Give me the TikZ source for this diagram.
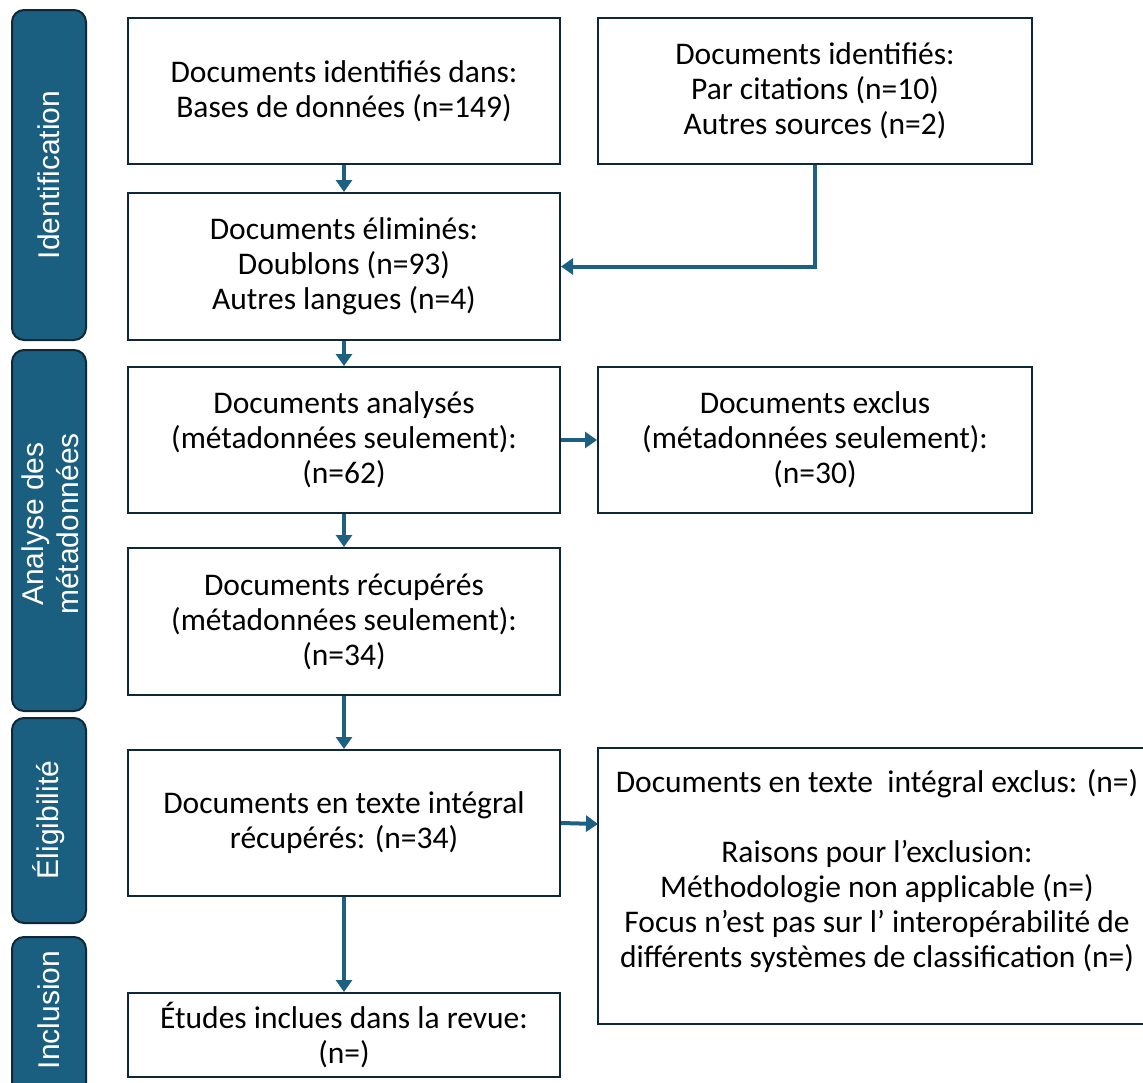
\documentclass[tikz,border=0pt]{standalone}
\usepackage{fontspec}
\setmainfont{Carlito}
\newfontfamily\sidefont{Liberation Sans}
\usetikzlibrary{arrows.meta}
\definecolor{teal1}{RGB}{26,94,128}
\definecolor{navy1}{RGB}{14,40,56}
\definecolor{arr}{RGB}{30,96,130}
\begin{document}
\begin{tikzpicture}[x=1pt,y=-1pt,
  box/.style={draw=navy1,line width=2pt,fill=white,align=center,font=\fontsize{31.5}{35}\selectfont,inner sep=0pt},
  side/.style={draw=navy1,line width=2pt,fill=teal1,rounded corners=12pt},
  sidetxt/.style={text=white,font=\sidefont\fontsize{30}{35}\selectfont,rotate=90,align=center},
  flow/.style={draw=arr,line width=4pt,-{Triangle[length=12pt,width=16pt]}}]
\useasboundingbox (0,0) rectangle (1143,1082);
% side bars
\draw[side] (12,10) rectangle (86,340);
\node[sidetxt] (sIdent) at (49,175) {Identification};
\draw[side] (12,350) rectangle (86,711);
\node[sidetxt] (sAna) at (50,524) {Analyse des\\métadonnées};
\draw[side] (12,718) rectangle (86,923);
\node[sidetxt] (sElig) at (49,820) {Éligibilité};
\draw[side] (12,937) rectangle (86,1100);
\node[sidetxt] (sIncl) at (49,1010) {Inclusion};
% boxes
\node[box,minimum width=432pt,minimum height=146pt] (b1) at (344,91) {Documents identifiés dans:\\Bases de données (n=149)};
\node[box,minimum width=434pt,minimum height=146pt] (b2) at (815,91) {Documents identifiés:\\Par citations (n=10)\\Autres sources (n=2)};
\node[box,minimum width=432pt,minimum height=147pt] (b3) at (344,266.5) {Documents éliminés:\\Doublons (n=93)\\Autres langues (n=4)};
\node[box,minimum width=432pt,minimum height=146pt] (b4) at (344,440) {Documents analysés\\(métadonnées seulement):\\(n=62)};
\node[box,minimum width=434pt,minimum height=146pt] (b5) at (815,440) {Documents exclus\\(métadonnées seulement):\\(n=30)};
\node[box,minimum width=432pt,minimum height=147pt] (b6) at (344,621.5) {Documents récupérés\\(métadonnées seulement):\\(n=34)};
\node[box,minimum width=432pt,minimum height=146pt] (b7) at (344,823) {Documents en texte intégral\\récupérés: (n=34)};
\node[box,minimum width=432pt,minimum height=84pt] (b9) at (344,1035) {Études inclues dans la revue:\\(n=)};
\draw[navy1,line width=2pt,fill=white] (598,748) rectangle (1160,1024);
\node[align=center,font=\fontsize{31.5}{35}\selectfont,anchor=north] (b8) at (877,766) {Documents en texte\ \ intégral exclus: (n=)\\[35pt]Raisons pour l’exclusion:\\Méthodologie non applicable (n=)\\Focus n’est pas sur l’ interopérabilité de\\différents systèmes de classification (n=)};
\coordinate (b8w) at (598,824);
% arrows
\draw[flow] (b1.south) -- (b3.north);
\draw[flow] (b3.south) -- (b4.north);
\draw[flow] (b4.south) -- (b6.north);
\draw[flow] (b6.south) -- (b7.north);
\draw[flow] (b7.south) -- (b9.north);
\draw[flow] (b4.east) -- (b5.west);
\draw[flow] (b7.east) -- (b8w);
\draw[flow] (b2.south) |- (b3.east);
\end{tikzpicture}
\end{document}
